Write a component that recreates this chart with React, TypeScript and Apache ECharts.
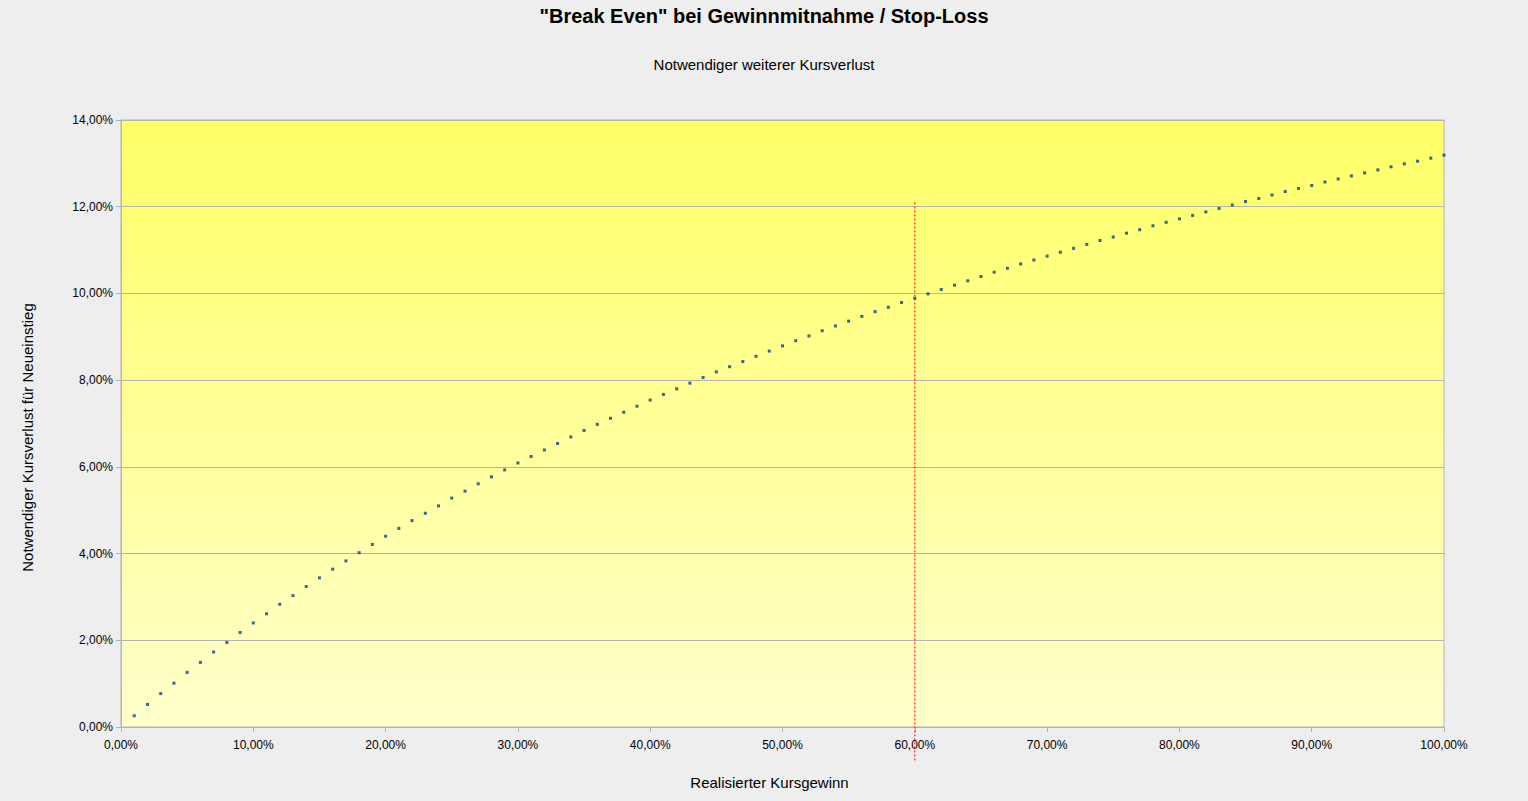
import React, { useEffect, useRef } from "react";
import * as echarts from "echarts";

const titleText = '"Break Even" bei Gewinnmitnahme / Stop-Loss';
const subtitleText = "Notwendiger weiterer Kursverlust";
const xAxisName = "Realisierter Kursgewinn";
const yAxisName = "Notwendiger Kursverlust für Neueinstieg";

// Realisierter Kursgewinn in %
const gains: number[] = [
  1, 2, 3, 4, 5, 6, 7, 8, 9, 10, 11, 12, 13, 14, 15, 16, 17, 18, 19, 20,
  21, 22, 23, 24, 25, 26, 27, 28, 29, 30, 31, 32, 33, 34, 35, 36, 37, 38, 39, 40,
  41, 42, 43, 44, 45, 46, 47, 48, 49, 50, 51, 52, 53, 54, 55, 56, 57, 58, 59, 60,
  61, 62, 63, 64, 65, 66, 67, 68, 69, 70, 71, 72, 73, 74, 75, 76, 77, 78, 79, 80,
  81, 82, 83, 84, 85, 86, 87, 88, 89, 90, 91, 92, 93, 94, 95, 96, 97, 98, 99, 100,
];

// Notwendiger Kursverlust in %
const losses: number[] = [
  0.26, 0.52, 0.77, 1.01, 1.26, 1.49, 1.73, 1.95, 2.18, 2.40,
  2.61, 2.83, 3.03, 3.24, 3.44, 3.64, 3.83, 4.02, 4.21, 4.40,
  4.58, 4.76, 4.93, 5.10, 5.28, 5.44, 5.61, 5.77, 5.93, 6.09,
  6.24, 6.39, 6.54, 6.69, 6.84, 6.98, 7.12, 7.26, 7.40, 7.54,
  7.67, 7.80, 7.93, 8.06, 8.19, 8.31, 8.43, 8.55, 8.67, 8.79,
  8.91, 9.02, 9.14, 9.25, 9.36, 9.47, 9.58, 9.68, 9.79, 9.89,
  9.99, 10.09, 10.19, 10.29, 10.39, 10.49, 10.58, 10.68, 10.77, 10.86,
  10.95, 11.04, 11.13, 11.22, 11.30, 11.39, 11.47, 11.56, 11.64, 11.72,
  11.80, 11.88, 11.96, 12.04, 12.12, 12.19, 12.27, 12.35, 12.42, 12.49,
  12.57, 12.64, 12.71, 12.78, 12.85, 12.92, 12.99, 13.05, 13.12, 13.19,
];

// Markierung bei 60 % Kursgewinn
const markerX: number[] = [60, 60];
const markerY: number[] = [12.1, -0.8];

const xTicks = { min: 0, max: 100, interval: 10 };
const yTicks = { min: 0, max: 14, interval: 2 };

const fmt = (v: number) => v.toFixed(2).replace(".", ",") + "%";

export default function App() {
  const ref = useRef<HTMLDivElement>(null);
  useEffect(() => {
    if (!ref.current) return;
    const chart = echarts.init(ref.current, null, { renderer: "svg" });
    const font = "'Liberation Sans', Arial, sans-serif";
    chart.setOption({
      animation: false,
      backgroundColor: "#eeeeee",
      textStyle: { fontFamily: font },
      title: [
        {
          text: titleText,
          left: "center",
          top: 1,
          textStyle: { fontFamily: font, fontSize: 20, fontWeight: "bold", color: "#000" },
        },
        {
          text: subtitleText,
          left: "center",
          top: 52,
          textStyle: { fontFamily: font, fontSize: 15, fontWeight: "normal", color: "#000" },
        },
      ],
      grid: {
        left: 121,
        right: 84,
        top: 120,
        bottom: 74,
        show: true,
        borderColor: "#b3b3b3",
        borderWidth: 1,
        backgroundColor: new echarts.graphic.LinearGradient(0, 0, 0, 1, [
          { offset: 0, color: "#ffff66" },
          { offset: 1, color: "#ffffcc" },
        ]),
      },
      xAxis: {
        type: "value",
        min: xTicks.min,
        max: xTicks.max,
        interval: xTicks.interval,
        name: xAxisName,
        nameLocation: "middle",
        nameGap: 48,
        nameTextStyle: { fontFamily: font, fontSize: 15, color: "#000", padding: [0, 26, 0, 0] },
        axisLine: { lineStyle: { color: "#b3b3b3" } },
        axisTick: { show: true, length: 5, lineStyle: { color: "#b3b3b3" } },
        axisLabel: { formatter: fmt, color: "#000", fontSize: 12, margin: 12, fontFamily: font },
        splitLine: { show: false },
      },
      yAxis: {
        type: "value",
        min: yTicks.min,
        max: yTicks.max,
        interval: yTicks.interval,
        name: yAxisName,
        nameLocation: "middle",
        nameGap: 86,
        nameTextStyle: { fontFamily: font, fontSize: 15, color: "#000", padding: [0, 28, 0, 0] },
        axisLine: { show: true, lineStyle: { color: "#b3b3b3" } },
        axisTick: { show: true, length: 5, lineStyle: { color: "#b3b3b3" } },
        axisLabel: { formatter: fmt, color: "#000", fontSize: 12, margin: 8, fontFamily: font },
        splitLine: { show: true, lineStyle: { color: "#b3b3b3", width: 1 } },
      },
      series: [
        {
          type: "line",
          data: markerX.map((x, i) => [x, markerY[i]]),
          clip: false,
          symbol: "none",
          lineStyle: { color: "#ff0000", width: 1, type: [2, 2] },
          silent: true,
          z: 1,
        },
        {
          type: "scatter",
          data: gains.map((g, i) => [g, losses[i]]),
          symbol: "rect",
          symbolSize: 3,
          itemStyle: { color: "#004586" },
          z: 2,
        },
      ],
    });
    return () => chart.dispose();
  }, []);
  return (
    <div
      ref={ref}
      style={{ position: "fixed", left: 0, top: 0, width: 1528, height: 801 }}
    />
  );
}
